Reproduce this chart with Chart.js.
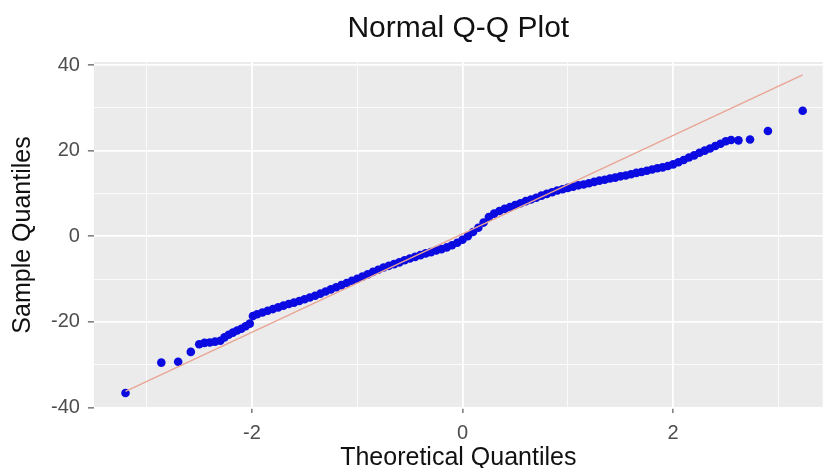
<!DOCTYPE html>
<html>
<head>
<meta charset="utf-8">
<script src="https://cdn.jsdelivr.net/npm/chart.js@4/dist/chart.umd.min.js"></script>
<style>
  body { margin: 0; background: #fff; }
  #qqChart { display: block; }
</style>
</head>
<body>
<canvas id="qqChart" width="827" height="468"></canvas>
<script>
const theoreticalQuantiles = [
  -3.20, -2.86, -2.70, -2.58, -2.50, -2.45, -2.40, -2.35, -2.30, -2.26,
  -2.22, -2.18, -2.14, -2.10, -2.06, -2.02, -1.99, -1.95, -1.90, -1.85,
  -1.80, -1.75, -1.70, -1.65, -1.60, -1.55, -1.50, -1.45, -1.40, -1.35,
  -1.30, -1.25, -1.20, -1.15, -1.10, -1.05, -1.00, -0.95, -0.90, -0.85,
  -0.80, -0.75, -0.70, -0.65, -0.60, -0.55, -0.50, -0.45, -0.40, -0.35,
  -0.30, -0.25, -0.20, -0.15, -0.10, -0.05, 0.00, 0.05, 0.10, 0.15,
  0.20, 0.25, 0.30, 0.35, 0.40, 0.45, 0.50, 0.55, 0.60, 0.65,
  0.70, 0.75, 0.80, 0.85, 0.90, 0.95, 1.00, 1.05, 1.10, 1.15,
  1.20, 1.25, 1.30, 1.35, 1.40, 1.45, 1.50, 1.55, 1.60, 1.65,
  1.70, 1.75, 1.80, 1.85, 1.90, 1.95, 2.00, 2.05, 2.10, 2.15,
  2.20, 2.25, 2.30, 2.35, 2.40, 2.45, 2.50, 2.55, 2.62, 2.73,
  2.90, 3.23
];
const sampleQuantiles = [
  -36.6, -29.5, -29.3, -27.0, -25.2, -24.9, -24.8, -24.6, -24.4, -23.6,
  -23.0, -22.5, -22.0, -21.6, -21.0, -20.4, -18.6, -18.2, -17.8, -17.4,
  -17.0, -16.6, -16.2, -15.8, -15.5, -15.1, -14.7, -14.3, -13.9, -13.4,
  -12.9, -12.4, -11.9, -11.4, -10.9, -10.4, -9.9, -9.4, -8.9, -8.3,
  -7.8, -7.3, -6.9, -6.5, -6.1, -5.6, -5.2, -4.8, -4.4, -4.0,
  -3.7, -3.3, -3.0, -2.6, -2.1, -1.5, -0.8, 0.0, 1.0, 2.0,
  3.2, 4.5, 5.3, 5.9, 6.4, 6.8, 7.3, 7.7, 8.2, 8.6,
  9.0, 9.5, 9.9, 10.3, 10.7, 11.0, 11.3, 11.6, 11.9, 12.1,
  12.4, 12.7, 13.0, 13.2, 13.5, 13.7, 14.0, 14.2, 14.5, 14.8,
  15.0, 15.3, 15.6, 15.9, 16.1, 16.4, 16.8, 17.3, 17.8, 18.4,
  18.9, 19.5, 20.0, 20.5, 21.1, 21.6, 22.2, 22.5, 22.4, 22.6,
  24.6, 29.3
];
// reference line end points (qq line)
const lineX = [-3.20, 3.23];
const lineY = [-36.2, 37.7];

const xTicks = [-3, -2, -1, 0, 1, 2, 3];
const xLabelled = [-2, 0, 2];
const yTicks = [-40, -30, -20, -10, 0, 10, 20, 30, 40];
const yLabelled = [-40, -20, 0, 20, 40];

const fontFamily = "'Liberation Sans', Arial, Helvetica, sans-serif";

const panelBackground = {
  id: "panelBackground",
  beforeDraw(chart) {
    const { ctx, chartArea } = chart;
    ctx.save();
    ctx.fillStyle = "#ebebeb";
    ctx.fillRect(chartArea.left, chartArea.top, chartArea.right - chartArea.left, chartArea.bottom - chartArea.top);
    ctx.restore();
  }
};

function gridWidth(labelled) {
  return (ctx) => (ctx.tick && labelled.includes(ctx.tick.value) ? 1.8 : 0.8);
}

function tickColor(labelled) {
  return (ctx) => (ctx.tick && labelled.includes(ctx.tick.value) ? "#333333" : "rgba(0,0,0,0)");
}

const ctx = document.querySelector("#qqChart").getContext("2d");
new Chart(ctx, {
  type: "scatter",
  data: {
    datasets: [
      {
        type: "line",
        label: "qq line",
        data: lineX.map((x, i) => ({ x, y: lineY[i] })),
        borderColor: "#e8a593",
        borderWidth: 1.3,
        pointRadius: 0,
        fill: false
      },
      {
        label: "sample",
        data: theoreticalQuantiles.map((x, i) => ({ x, y: sampleQuantiles[i] })),
        backgroundColor: "rgb(10,10,225)",
        borderWidth: 0,
        pointRadius: 4.3
      }
    ]
  },
  options: {
    responsive: false,
    animation: false,
    layout: { padding: { left: 4, right: 0, top: 0, bottom: 0 } },
    plugins: {
      legend: { display: false },
      tooltip: { enabled: false },
      title: {
        display: true,
        text: "Normal Q-Q Plot",
        color: "#111111",
        fullSize: false,
        font: { family: fontFamily, size: 30, weight: "normal" },
        padding: { top: 11, bottom: 15 }
      }
    },
    scales: {
      x: {
        type: "linear",
        min: -3.5,
        max: 3.42,
        afterBuildTicks: (axis) => {
          axis.ticks = xTicks.map((v) => ({ value: v }));
        },
        ticks: {
          autoSkip: false,
          maxRotation: 0,
          color: "#4d4d4d",
          padding: 8,
          font: { family: fontFamily, size: 20 },
          callback: (v) => (xLabelled.includes(v) ? String(v) : "")
        },
        grid: {
          color: "#ffffff",
          lineWidth: gridWidth(xLabelled),
          tickColor: tickColor(xLabelled),
          tickLength: 5,
          tickWidth: 1
        },
        border: { display: false },
        title: {
          display: true,
          text: "Theoretical Quantiles",
          color: "#111111",
          font: { family: fontFamily, size: 25, lineHeight: 1 },
          padding: { top: -7.5, bottom: -2.5 }
        }
      },
      y: {
        type: "linear",
        min: -40.1,
        max: 40.7,
        afterBuildTicks: (axis) => {
          axis.ticks = yTicks.map((v) => ({ value: v }));
        },
        ticks: {
          autoSkip: false,
          color: "#4d4d4d",
          padding: 8,
          font: { family: fontFamily, size: 20 },
          callback: (v) => (yLabelled.includes(v) ? String(v) : "")
        },
        grid: {
          color: "#ffffff",
          lineWidth: gridWidth(yLabelled),
          tickColor: tickColor(yLabelled),
          tickLength: 6,
          tickWidth: 1
        },
        border: { display: false },
        title: {
          display: true,
          text: "Sample Quantiles",
          color: "#111111",
          font: { family: fontFamily, size: 25, lineHeight: 1 },
          padding: { top: 6.5, bottom: 7.5 }
        }
      }
    }
  },
  plugins: [panelBackground]
});
</script>
</body>
</html>
